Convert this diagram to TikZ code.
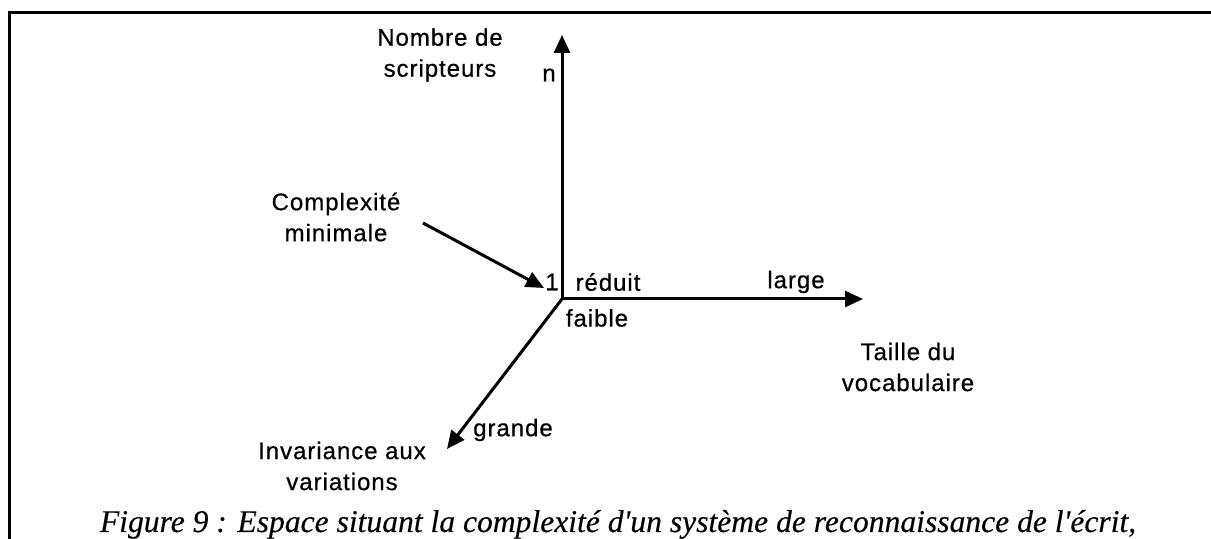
\documentclass[tikz,border=0pt]{standalone}
\usepackage{fontspec}
\newfontfamily\axisfont[LetterSpace=4,FakeBold=0.6]{Liberation Sans}
\newfontfamily\capfont[FakeBold=0.3]{Liberation Serif}
\usetikzlibrary{arrows.meta}
\tikzset{
  axis/.style={line width=1.5pt,-{Triangle[length=9pt,width=8pt]}},
  lbl/.style={font=\axisfont\fontsize{12}{15.5}\selectfont,align=center,inner sep=0pt}
}
\begin{document}
\begin{tikzpicture}[x=0.5pt,y=-0.5pt]
            \useasboundingbox (0,0) rectangle (1211,539);
            \draw[line width=1.5pt] (9,539) -- (9,13) -- (1211,13);

            \coordinate (O) at (562,299);
            \coordinate (N) at (562,35);
            \coordinate (V) at (863,299);
            \coordinate (I) at (447,449);

            \node[lbl] (nb) at (440,55) {Nombre de\\scripteurs};
            \node[lbl] (n) at (549,75) {n};
            \node[lbl] (un) at (552,282) {1};
            \node[lbl] (reduit) at (608,282) {réduit};
            \node[lbl] (faible) at (597,318) {faible};
            \node[lbl] (large) at (796,282) {large};
            \node[lbl] (taille) at (908,367) {Taille du\\vocabulaire};
            \node[lbl] (grande) at (513,430) {grande};
            \node[lbl] (inv) at (342,466) {Invariance aux\\variations};
            \node[lbl] (cmin) at (336,217) {Complexité\\minimale};
            \coordinate (cfrom) at (423,223);
            \coordinate (cto) at (544,288);

            \draw[axis] (O) -- (N); \draw[axis] (O) -- (V); \draw[axis] (O) -- (I);
            \draw[axis] (cfrom) -- (cto);

            \node[anchor=base,inner sep=0pt,font=\capfont\itshape\fontsize{15.8}{18}\selectfont] (cap) at (618,532) {Figure 9 : Espace situant la complexité d'un système de reconnaissance de l'écrit,};
        \end{tikzpicture}
\end{document}
